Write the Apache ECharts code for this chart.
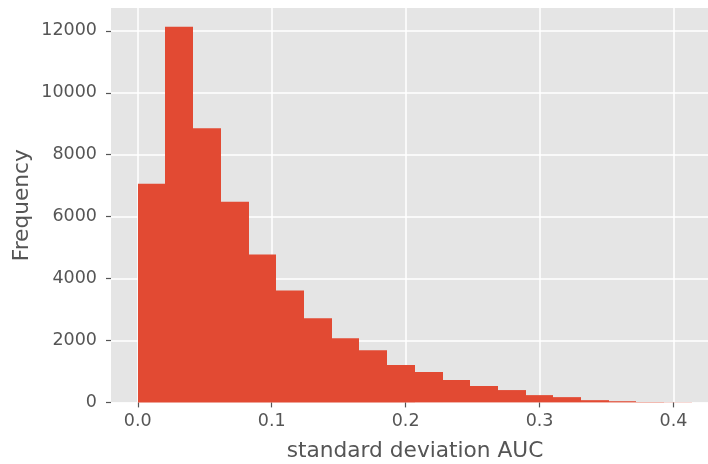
<!DOCTYPE html>
<html>
<head>
<meta charset="utf-8">
<script src="https://cdn.jsdelivr.net/npm/echarts@6/dist/echarts.min.js"></script>
<style>
html,body{margin:0;padding:0;background:#fff;overflow:hidden;}
#chart{width:708px;height:464px;}
</style>
</head>
<body>
<div id="chart"></div>
<script>
// Histogram data
var binStart = 0.0;
var binEnd = 0.4137;
var counts = [7060, 12130, 8850, 6480, 4775, 3615, 2718, 2074, 1688, 1206, 981, 723, 530, 398, 235, 170, 72, 38, 12, 6];
var xTicks = [0.0, 0.1, 0.2, 0.3, 0.4];
var yTicks = [0, 2000, 4000, 6000, 8000, 10000, 12000];
var xLabel = 'standard deviation AUC';
var yLabel = 'Frequency';

var binWidth = (binEnd - binStart) / counts.length;
var histData = counts.map(function (c, i) {
  return [binStart + i * binWidth, binStart + (i + 1) * binWidth, c];
});

var FONT = 'DejaVu Sans';
var chart = echarts.init(document.getElementById('chart'), null, {renderer: 'canvas'});
chart.setOption({
  animation: false,
  backgroundColor: '#ffffff',
  grid: {
    left: 111, right: -11, top: 8, bottom: 61.6,
    containLabel: false,
    outerBoundsMode: 'none',
    show: true, backgroundColor: '#E5E5E5', borderWidth: 0
  },
  xAxis: {
    type: 'value',
    min: -0.02, max: 0.434,
    name: xLabel,
    nameLocation: 'middle',
    nameGap: 38,
    nameMoveOverlap: false,
    nameTextStyle: {fontFamily: FONT, fontSize: 21.7, color: '#555555'},
    axisLine: {show: true, onZero: false, lineStyle: {color: 'rgba(0,0,0,0)', width: 0}},
    axisTick: {show: true, inside: false, length: 5, lineStyle: {color: '#555555', width: 1.2}, customValues: xTicks},
    axisLabel: {
      customValues: xTicks,
      fontFamily: FONT, fontSize: 17.5, color: '#555555', margin: 10,
      formatter: function (v) { return v.toFixed(1); }
    },
    splitLine: {show: true, lineStyle: {color: '#ffffff', width: 1.5}}
  },
  yAxis: {
    type: 'value',
    min: 0, max: 12737,
    name: yLabel,
    nameLocation: 'middle',
    nameGap: 78,
    nameRotate: 90,
    nameMoveOverlap: false,
    nameTextStyle: {fontFamily: FONT, fontSize: 21.7, color: '#555555'},
    axisLine: {show: true, onZero: false, lineStyle: {color: 'rgba(0,0,0,0)', width: 0}},
    axisTick: {show: true, inside: false, length: 5, lineStyle: {color: '#555555', width: 1.2}, customValues: yTicks},
    axisLabel: {
      customValues: yTicks,
      fontFamily: FONT, fontSize: 17.5, color: '#555555', margin: 14,
      formatter: function (v) { return String(v); }
    },
    splitLine: {show: true, lineStyle: {color: '#ffffff', width: 1.5}}
  },
  series: [{
    type: 'custom',
    data: histData,
    encode: {x: [0, 1], y: 2},
    renderItem: function (params, api) {
      var p0 = api.coord([api.value(0), api.value(2)]);
      var p1 = api.coord([api.value(1), 0]);
      var x0 = Math.round(p0[0]);
      var x1 = Math.round(p1[0]);
      return {
        type: 'rect',
        shape: {x: x0, y: p0[1], width: x1 - x0, height: p1[1] - p0[1]},
        style: {fill: '#E24A33', stroke: null}
      };
    }
  }]
});
</script>
</body>
</html>
